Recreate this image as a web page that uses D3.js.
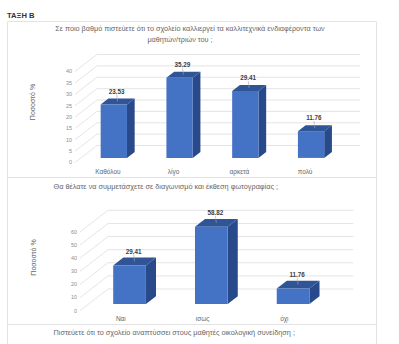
<!DOCTYPE html>
<html><head><meta charset="utf-8">
<script src="https://cdn.jsdelivr.net/npm/d3@7"></script>
<style>
html,body{margin:0;padding:0;background:#fff;}
svg{display:block;font-family:"Liberation Sans",Arial,sans-serif;}
</style></head>
<body><svg id="c" width="399" height="344"></svg>
<script>
// ---- data ----
const pageHeading = "ΤΑΞΗ Β";
const chart1TitleLines = ["Σε ποιο βαθμό πιστεύετε ότι το σχολείο καλλιεργεί τα καλλιτεχνικά ενδιαφέροντα των", "μαθητών/τριών του ;"];
const chart1Categories = ["Καθόλου", "λίγο", "αρκετά", "πολύ"];
const chart1Values = [23.53, 35.29, 29.41, 11.76];
const chart1Ticks = [0, 5, 10, 15, 20, 25, 30, 35, 40];
const chart2Title = "Θα θέλατε να συμμετάσχετε σε διαγωνισμό και έκθεση φωτογραφίας ;";
const chart2Categories = ["Ναι", "ισως", "όχι"];
const chart2Values = [29.41, 58.82, 11.76];
const chart2Ticks = [0, 10, 20, 30, 40, 50, 60];
const chart3Title = "Πιστεύετε ότι το σχολείο αναπτύσσει στους μαθητές οικολογική συνείδηση ;";
const yAxisTitle = "Ποσοστό %";

const svg = d3.select("#c");
const textCol = "#666666", gridCol = "#d9d9d9", borderCol = "#e3e3e3";
const frontCol = "#4472c4", topCol = "#2f5597", sideCol = "#28498a";

// heading
svg.append("text").attr("x", 7).attr("y", 18).attr("font-size", 7.6)
  .attr("font-weight", "bold").attr("fill", "#333").text(pageHeading);

// panel borders
const pb = svg.append("g").attr("stroke", borderCol).attr("fill", "none").attr("stroke-width", 1);
pb.append("path").attr("d", "M7.5,344 V21.5 H376.5 V344");
pb.append("line").attr("x1", 7.5).attr("x2", 376.5).attr("y1", 177.5).attr("y2", 177.5);
pb.append("line").attr("x1", 7.5).attr("x2", 376.5).attr("y1", 324.5).attr("y2", 324.5);

function fitText(sel, width) {
  const w = sel.node().getComputedTextLength();
  const fs = +sel.attr("font-size");
  sel.attr("font-size", fs * width / w);
  return fs * width / w;
}

// titles
const t1fs = fitText(svg.append("text").attr("x", 190).attr("y", 30.5).attr("text-anchor", "middle")
  .attr("font-size", 7).attr("fill", textCol).text(chart1TitleLines[0]), 270);
svg.append("text").attr("x", 180).attr("y", 41.5).attr("text-anchor", "middle")
  .attr("font-size", t1fs).attr("fill", textCol).text(chart1TitleLines[1]);
fitText(svg.append("text").attr("x", 53.5).attr("y", 188.5)
  .attr("font-size", 7).attr("fill", textCol).text(chart2Title), 225);
fitText(svg.append("text").attr("x", 53.5).attr("y", 334.5)
  .attr("font-size", 7).attr("fill", textCol).text(chart3Title), 242);

function bar3d(cfg) {
  const g = svg.append("g");
  const x = d3.scaleBand().domain(cfg.categories).range(cfg.xRange).padding(0);
  const y = d3.scaleLinear().domain([0, cfg.max]).range([cfg.yBase, cfg.yTop]);
  const P = (xf, v, d) => [xf + d * cfg.DX, y(v) - d * cfg.DY];
  const x0 = cfg.xRange[0], x1 = cfg.xRange[1];
  // gridlines: side-wall diagonals + back wall horizontals
  const gg = g.append("g").attr("stroke", gridCol).attr("stroke-width", 0.7).attr("fill", "none");
  cfg.ticks.forEach(t => {
    const a = P(x0, t, 0), b = P(x0, t, 1), c = P(x1, t, 1);
    gg.append("path").attr("d", `M${a[0]},${a[1]} L${b[0]},${b[1]} L${c[0]},${c[1]}`);
  });
  // tick labels
  g.append("g").selectAll("text").data(cfg.ticks).join("text")
    .attr("x", x0 - 3).attr("y", d => y(d)).attr("dy", "0.35em")
    .attr("text-anchor", "end").attr("font-size", 5.4).attr("fill", "#8c8c8c").text(d => d);
  // y axis title
  g.append("text").attr("transform", `translate(${cfg.titleX},${cfg.titleY}) rotate(-90)`)
    .attr("text-anchor", "middle").attr("dy", "0.35em").attr("font-size", 7)
    .attr("fill", textCol).text(yAxisTitle);
  // bars
  const bw = x.bandwidth() * cfg.barFrac;
  cfg.values.forEach((v, i) => {
    const cat = cfg.categories[i];
    const L = x(cat) + (x.bandwidth() - bw) / 2, R = L + bw;
    const d0 = cfg.d0, d1 = cfg.d1;
    const poly = pts => pts.map(p => p.join(",")).join(" ");
    g.append("polygon").attr("fill", sideCol)
      .attr("points", poly([P(R, 0, d0), P(R, v, d0), P(R, v, d1), P(R, 0, d1)]));
    g.append("polygon").attr("fill", topCol)
      .attr("points", poly([P(L, v, d0), P(R, v, d0), P(R, v, d1), P(L, v, d1)]));
    g.append("polygon").attr("fill", frontCol)
      .attr("points", poly([P(L, 0, d0), P(R, 0, d0), P(R, v, d0), P(L, v, d0)]));
    // value label with leader line
    const dm = (d0 + d1) / 2;
    const tc = P((L + R) / 2, v, dm);
    const lx = tc[0] - 1, ly = tc[1] - 10;
    g.append("line").attr("x1", lx).attr("y1", ly + 3).attr("x2", tc[0]).attr("y2", tc[1])
      .attr("stroke", "#a6a6a6").attr("stroke-width", 0.6);
    g.append("text").attr("x", lx).attr("y", ly).attr("dy", "0.35em").attr("text-anchor", "middle")
      .attr("font-size", 6.3).attr("font-weight", "bold").attr("fill", "#404040").text(v.toFixed(2));
  });
  // category labels
  g.append("g").selectAll("text").data(cfg.categories).join("text")
    .attr("x", d => x(d) + x.bandwidth() / 2).attr("y", cfg.yBase + cfg.catDy).attr("dy", "0.35em")
    .attr("text-anchor", "middle").attr("font-size", 6.5).attr("fill", textCol).text(d => d);
}

bar3d({categories: chart1Categories, values: chart1Values, ticks: chart1Ticks, max: 40,
  xRange: [75, 338], yBase: 162.5, yTop: 71.5, DX: 22, DY: 17, d0: 0.27, d1: 0.62,
  barFrac: 0.4, catDy: 9.3, titleX: 33, titleY: 102});
bar3d({categories: chart2Categories, values: chart2Values, ticks: chart2Ticks, max: 60,
  xRange: [80, 325.3], yBase: 310.7, yTop: 232, DX: 28, DY: 21.7, d0: 0.31, d1: 0.67,
  barFrac: 0.4, catDy: 8.5, titleX: 34, titleY: 257.5});
</script></body></html>
